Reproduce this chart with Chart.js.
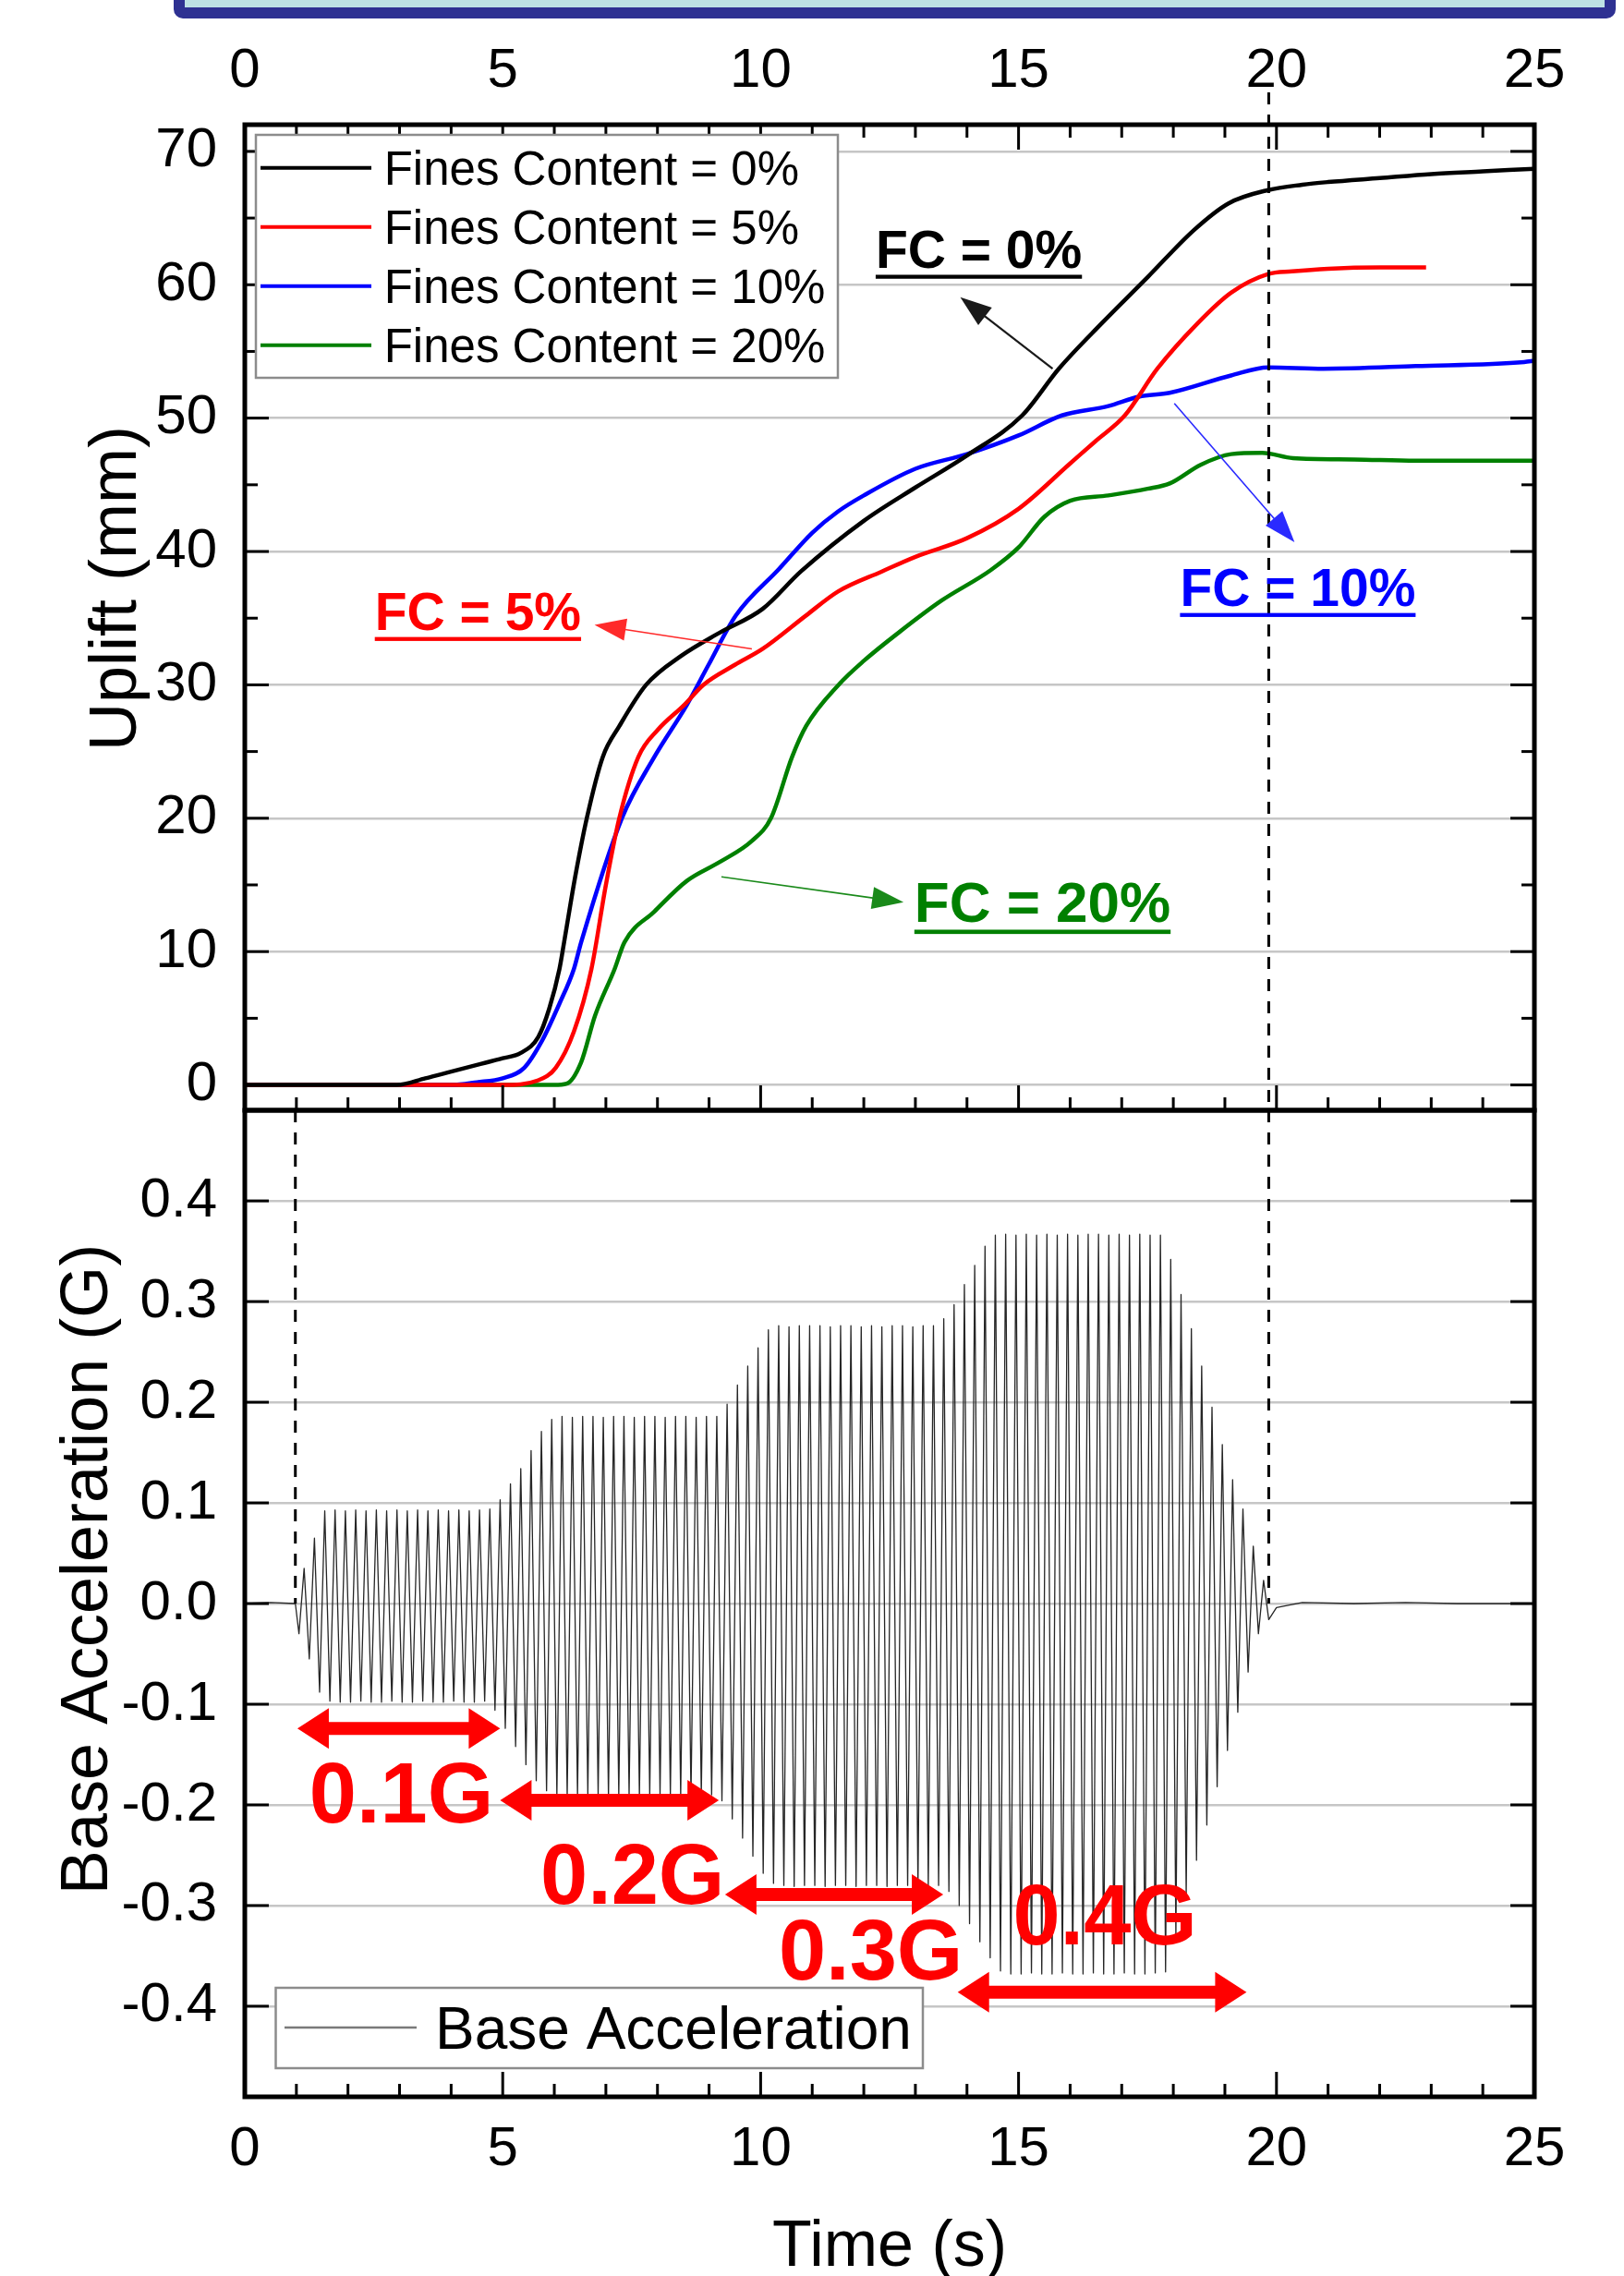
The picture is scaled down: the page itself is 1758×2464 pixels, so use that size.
<!DOCTYPE html>
<html>
<head>
<meta charset="utf-8">
<title>Uplift and base acceleration</title>
<script src="https://cdn.jsdelivr.net/npm/chart.js@4.4.1/dist/chart.umd.min.js"></script>
<style>
html, body { margin: 0; padding: 0; background: #fff; }
body { position: relative; width: 1758px; height: 2464px; overflow: hidden; }
#banner { position: absolute; left: 188px; top: -20px; width: 1561px; height: 40px; box-sizing: border-box;
  background: #bde1e4; border: 12px solid #2e3192; border-radius: 0 0 10px 10px; }
canvas { position: absolute; left: 0; }
#upliftChart { top: 0; }
#accChart { top: 1196px; }
</style>
</head>
<body>
<div id="banner"></div>
<canvas id="upliftChart" width="1758" height="1210"></canvas>
<canvas id="accChart" width="1758" height="1268"></canvas>
<script>
const FONT = "'Liberation Sans', Arial, Helvetica, sans-serif";
const B_TOP = 1196; // page offset of the lower canvas

/* axes */
const timeTicks = [0, 5, 10, 15, 20, 25];
const timeMinor = [1, 2, 3, 4, 6, 7, 8, 9, 11, 12, 13, 14, 16, 17, 18, 19, 21, 22, 23, 24];
const upliftTicks = [0, 10, 20, 30, 40, 50, 60, 70];
const upliftMinor = [5, 15, 25, 35, 45, 55, 65];
const accTicks = [-0.4, -0.3, -0.2, -0.1, 0, 0.1, 0.2, 0.3, 0.4];

/* uplift (mm) vs time (s) */
const fcLabels = ['Fines Content = 0%', 'Fines Content = 5%', 'Fines Content = 10%', 'Fines Content = 20%'];

const fc0Time = [0, 2.95, 3.5, 4, 4.5, 5, 5.35, 5.69, 5.9, 6.1, 6.19, 6.4, 6.63, 6.94, 7.26, 7.78, 8.47, 9.2, 10.04, 10.78,
  12, 13, 14, 15.07, 15.78, 16.61, 17.51, 18.4, 19.07, 19.84, 20.5, 21, 22, 23, 24, 25];
const fc0Uplift = [0, 0, 0.5, 1.0, 1.5, 2.0, 2.4, 3.6, 5.7, 8.7, 10.7, 15.5, 20, 24.6, 26.9, 30, 32.2, 33.9, 35.7, 38.5,
  42.3, 44.8, 47.2, 50.2, 53.7, 57.1, 60.6, 64.1, 66.1, 67.1, 67.5, 67.7, 68.0, 68.3, 68.5, 68.7];

const fc5Time = [0, 5, 5.69, 6.03, 6.38, 6.72, 7.0, 7.26, 7.63, 8.0, 8.52, 8.89, 9.5, 10.04, 10.88, 11.5, 12.35, 13, 14, 15,
  16, 16.5, 17.06, 17.69, 18.47, 19.12, 19.84, 20.3, 21, 22, 22.9];
const fc5Uplift = [0, 0, 0.35, 1.3, 4.0, 8.7, 15, 20, 24.6, 26.6, 28.5, 30, 31.5, 32.7, 35.2, 37, 38.5, 39.6, 41, 43.2,
  46.6, 48.3, 50.2, 53.7, 57.1, 59.4, 60.8, 61.0, 61.2, 61.3, 61.3];

const fc10Time = [0, 4, 4.5, 5, 5.42, 5.76, 6.1, 6.38, 6.52, 7.31, 7.94, 8.57, 8.99, 9.52, 10.36, 11, 11.5, 12, 13, 14,
  15, 15.84, 16.74, 17.33, 17.93, 19.12, 19.84, 20.91, 22.7, 24.8, 25];
const fc10Uplift = [0, 0, 0.2, 0.5, 1.3, 3.3, 6.1, 8.7, 10.7, 20, 24.6, 28.5, 31.5, 35.2, 38.7, 41.4, 43.0, 44.2, 46.2, 47.3,
  48.7, 50.2, 50.9, 51.6, 51.9, 53.2, 53.8, 53.7, 53.9, 54.2, 54.3];

const fc20Time = [0, 6.0, 6.24, 6.52, 6.79, 7.17, 7.36, 7.94, 8.57, 9.2, 9.83, 10.2, 10.61, 10.88, 11.51, 12.0, 12.67, 13.5, 14.46, 15,
  15.5, 16, 16.74, 17.5, 17.93, 18.53, 19.12, 19.72, 20.32, 21.51, 22.7, 25];
const fc20Uplift = [0, 0, 0.1, 1.7, 5.2, 8.7, 10.7, 13.0, 15.3, 16.7, 18.3, 20, 24.6, 26.9, 30, 31.8, 33.9, 36.3, 38.6, 40.3,
  42.6, 43.8, 44.2, 44.7, 45.1, 46.5, 47.3, 47.4, 47.0, 46.9, 46.8, 46.8];

/* base acceleration (G): peaks and troughs of the record */
const accTime = [0, 0.5, 0.98,
  1.05, 1.15, 1.25, 1.35, 1.45, 1.55, 1.65, 1.75, 1.85, 1.95,
  2.05, 2.15, 2.25, 2.35, 2.45, 2.55, 2.65, 2.75, 2.85, 2.95,
  3.05, 3.15, 3.25, 3.35, 3.45, 3.55, 3.65, 3.75, 3.85, 3.95,
  4.05, 4.15, 4.25, 4.35, 4.45, 4.55, 4.65, 4.75, 4.85, 4.95,
  5.05, 5.15, 5.25, 5.35, 5.45, 5.55, 5.65, 5.75, 5.85, 5.95,
  6.05, 6.15, 6.25, 6.35, 6.45, 6.55, 6.65, 6.75, 6.85, 6.95,
  7.05, 7.15, 7.25, 7.35, 7.45, 7.55, 7.65, 7.75, 7.85, 7.95,
  8.05, 8.15, 8.25, 8.35, 8.45, 8.55, 8.65, 8.75, 8.85, 8.95,
  9.05, 9.15, 9.25, 9.35, 9.45, 9.55, 9.65, 9.75, 9.85, 9.95,
  10.05, 10.15, 10.25, 10.35, 10.45, 10.55, 10.65, 10.75, 10.85, 10.95,
  11.05, 11.15, 11.25, 11.35, 11.45, 11.55, 11.65, 11.75, 11.85, 11.95,
  12.05, 12.15, 12.25, 12.35, 12.45, 12.55, 12.65, 12.75, 12.85, 12.95,
  13.05, 13.15, 13.25, 13.35, 13.45, 13.55, 13.65, 13.75, 13.85, 13.95,
  14.05, 14.15, 14.25, 14.35, 14.45, 14.55, 14.65, 14.75, 14.85, 14.95,
  15.05, 15.15, 15.25, 15.35, 15.45, 15.55, 15.65, 15.75, 15.85, 15.95,
  16.05, 16.15, 16.25, 16.35, 16.45, 16.55, 16.65, 16.75, 16.85, 16.95,
  17.05, 17.15, 17.25, 17.35, 17.45, 17.55, 17.65, 17.75, 17.85, 17.95,
  18.05, 18.15, 18.25, 18.35, 18.45, 18.55, 18.65, 18.75, 18.85, 18.95,
  19.05, 19.15, 19.25, 19.35, 19.45, 19.55, 19.65, 19.75, 19.85,
  20.0, 20.5, 21.5, 22.5, 23.5, 25];
const accValue = [0, 0.001, 0,
  -0.030, 0.035, -0.055, 0.065, -0.088, 0.092, -0.097, 0.093, -0.098, 0.092,
  -0.098, 0.093, -0.097, 0.092, -0.098, 0.093, -0.098, 0.092, -0.097, 0.093,
  -0.098, 0.092, -0.098, 0.093, -0.097, 0.092, -0.098, 0.093, -0.098, 0.092,
  -0.097, 0.093, -0.098, 0.092, -0.098, 0.093, -0.097, 0.094, -0.106, 0.103,
  -0.124, 0.119, -0.142, 0.134, -0.160, 0.152, -0.176, 0.171, -0.186, 0.183,
  -0.190, 0.186, -0.191, 0.185, -0.190, 0.186, -0.189, 0.186, -0.190, 0.185,
  -0.191, 0.186, -0.190, 0.186, -0.190, 0.185, -0.191, 0.186, -0.190, 0.186,
  -0.190, 0.185, -0.190, 0.186, -0.191, 0.186, -0.190, 0.185, -0.190, 0.186,
  -0.190, 0.186, -0.196, 0.198, -0.214, 0.217, -0.233, 0.236, -0.251, 0.254,
  -0.268, 0.272, -0.278, 0.276, -0.280, 0.275, -0.281, 0.276, -0.280, 0.276,
  -0.280, 0.276, -0.281, 0.275, -0.280, 0.276, -0.280, 0.276, -0.281, 0.275,
  -0.280, 0.276, -0.280, 0.275, -0.281, 0.276, -0.280, 0.276, -0.280, 0.275,
  -0.281, 0.276, -0.280, 0.276, -0.280, 0.283, -0.286, 0.297, -0.300, 0.317,
  -0.318, 0.336, -0.336, 0.355, -0.352, 0.366, -0.365, 0.367, -0.368, 0.366,
  -0.368, 0.367, -0.367, 0.366, -0.368, 0.367, -0.368, 0.366, -0.367, 0.367,
  -0.368, 0.366, -0.368, 0.367, -0.367, 0.367, -0.368, 0.366, -0.368, 0.367,
  -0.367, 0.366, -0.368, 0.367, -0.368, 0.366, -0.367, 0.366, -0.366, 0.342,
  -0.332, 0.307, -0.290, 0.273, -0.255, 0.236, -0.220, 0.195, -0.182, 0.158,
  -0.146, 0.123, -0.108, 0.094, -0.068, 0.057, -0.030, 0.023, -0.016,
  -0.004, 0.001, 0, 0.001, 0, 0];

/* shaking stages */
const stageLabels = ['0.1G', '0.2G', '0.3G', '0.4G'];
const stageFrom = [1.02, 4.95, 9.31, 13.82];
const stageTo = [4.95, 9.19, 13.54, 19.42];

/* start / end of shaking (dashed markers) */
const shakeStart = 0.98;
const shakeEnd = 19.85;

/* ---------- styling / layout ---------- */
const fcColors = ['#000000', '#ff0000', '#0000ff', '#008000'];

const fcNotes = [
  {text: 'FC = 0%',  at: [12.23, 61.26], size: 57, color: '#000000', arrow: '#1a1a1a', tail: [15.66, 53.7], tip: [13.87, 59.07], lw: 2.2},
  {text: 'FC = 5%',  at: [2.52, 34.1],   size: 57, color: '#ff0000', arrow: '#ff2a2a', tail: [9.83, 32.7],  tip: [6.78, 34.5],   lw: 1.6},
  {text: 'FC = 10%', at: [18.13, 35.9],  size: 57, color: '#0000ff', arrow: '#2a2aff', tail: [18.02, 51.1], tip: [20.35, 40.7],  lw: 1.6},
  {text: 'FC = 20%', at: [12.98, 12.2],  size: 62, color: '#008000', arrow: '#1a8a1a', tail: [9.24, 15.6],  tip: [12.77, 13.7],  lw: 1.6}
];

const stageLayout = [
  {arrowY: -0.124, textAt: [1.25, -0.2175]},
  {arrowY: -0.1955, textAt: [5.73, -0.298]},
  {arrowY: -0.289, textAt: [10.35, -0.3735]},
  {arrowY: -0.386, textAt: [14.89, -0.339]}
];

function pairs(ts, vs) { return ts.map((t, i) => ({x: t, y: vs[i]})); }

function seg(ctx, x1, y1, x2, y2) {
  ctx.beginPath(); ctx.moveTo(x1, y1); ctx.lineTo(x2, y2); ctx.stroke();
}

function arrowHead(ctx, fx, fy, tx, ty, len, half) {
  const a = Math.atan2(ty - fy, tx - fx), c = Math.cos(a), s = Math.sin(a);
  ctx.beginPath();
  ctx.moveTo(tx, ty);
  ctx.lineTo(tx - len * c + half * s, ty - len * s - half * c);
  ctx.lineTo(tx - len * c - half * s, ty - len * s + half * c);
  ctx.closePath(); ctx.fill();
}

function doubleArrow(ctx, x1, x2, y, shaft, hl, hh) {
  ctx.beginPath();
  ctx.moveTo(x1, y);
  ctx.lineTo(x1 + hl, y - hh); ctx.lineTo(x1 + hl, y - shaft / 2);
  ctx.lineTo(x2 - hl, y - shaft / 2); ctx.lineTo(x2 - hl, y - hh);
  ctx.lineTo(x2, y);
  ctx.lineTo(x2 - hl, y + hh); ctx.lineTo(x2 - hl, y + shaft / 2);
  ctx.lineTo(x1 + hl, y + shaft / 2); ctx.lineTo(x1 + hl, y + hh);
  ctx.closePath(); ctx.fill();
}

function makeDecor(cfg) {
  return {
    id: 'decor',
    afterDatasetsDraw(chart) {
      const ctx = chart.ctx, a = chart.chartArea;
      const xs = chart.scales.x, ys = chart.scales.y;
      ctx.save();

      // dashed markers
      ctx.strokeStyle = '#000'; ctx.lineWidth = 3; ctx.setLineDash([13, 11]);
      cfg.markers.forEach(m => {
        const px = xs.getPixelForValue(m.t);
        const y0 = m.fromTop != null ? m.fromTop : a.top;
        const y1 = m.toValue != null ? ys.getPixelForValue(m.toValue) : a.bottom;
        seg(ctx, px, y0, px, y1);
      });
      ctx.setLineDash([]);

      // labelled arrows for the uplift curves
      (cfg.notes || []).forEach(n => {
        const tx = xs.getPixelForValue(n.tip[0]), ty = ys.getPixelForValue(n.tip[1]);
        const fx = xs.getPixelForValue(n.tail[0]), fy = ys.getPixelForValue(n.tail[1]);
        const ang = Math.atan2(ty - fy, tx - fx);
        ctx.strokeStyle = n.arrow; ctx.fillStyle = n.arrow; ctx.lineWidth = n.lw;
        seg(ctx, fx, fy, tx - 30 * Math.cos(ang), ty - 30 * Math.sin(ang));
        arrowHead(ctx, fx, fy, tx, ty, 34, 12);
        const px = xs.getPixelForValue(n.at[0]), py = ys.getPixelForValue(n.at[1]);
        ctx.font = 'bold ' + n.size + 'px ' + FONT;
        ctx.textAlign = 'left'; ctx.textBaseline = 'alphabetic';
        ctx.fillStyle = n.color;
        ctx.fillText(n.text, px, py);
        const w = ctx.measureText(n.text).width;
        ctx.fillRect(px, py + n.size * 0.13, w, n.size * 0.075);
      });

      // shaking stage arrows
      if (cfg.stages) {
        ctx.fillStyle = '#ff0000';
        stageLabels.forEach((lab, i) => {
          const L = stageLayout[i];
          doubleArrow(ctx, xs.getPixelForValue(stageFrom[i]), xs.getPixelForValue(stageTo[i]),
            ys.getPixelForValue(L.arrowY), 14, 34, 22);
          ctx.font = 'bold 92px ' + FONT;
          ctx.textAlign = 'left'; ctx.textBaseline = 'alphabetic';
          ctx.fillText(lab, xs.getPixelForValue(L.textAt[0]), ys.getPixelForValue(L.textAt[1]));
        });
      }

      // inward ticks and frame
      ctx.strokeStyle = '#000'; ctx.lineWidth = 3;
      const xt = (vals, len) => vals.forEach(v => {
        const px = xs.getPixelForValue(v);
        seg(ctx, px, a.bottom, px, a.bottom - len);
        if (cfg.topTicks) seg(ctx, px, a.top, px, a.top + len);
      });
      xt(timeTicks, 27); xt(timeMinor, 14);
      const yt = (vals, len) => vals.forEach(v => {
        const py = ys.getPixelForValue(v);
        seg(ctx, a.left, py, a.left + len, py);
        seg(ctx, a.right, py, a.right - len, py);
      });
      yt(cfg.yMajor, 26); yt(cfg.yMinor || [], 14);
      ctx.lineWidth = 5;
      ctx.strokeRect(a.left, a.top, a.right - a.left, a.bottom - a.top);

      // legend box
      const L = cfg.legend;
      ctx.fillStyle = '#fff'; ctx.fillRect(L.x, L.y, L.w, L.h);
      ctx.strokeStyle = '#8c8c8c'; ctx.lineWidth = 2.5; ctx.strokeRect(L.x, L.y, L.w, L.h);
      chart.data.datasets.forEach((ds, i) => {
        const cy = L.y + L.first + i * L.step;
        ctx.strokeStyle = L.lineColor || ds.borderColor; ctx.lineWidth = L.lineW;
        seg(ctx, L.x + L.sx0, cy, L.x + L.sx1, cy);
        ctx.fillStyle = '#000'; ctx.font = L.size + 'px ' + FONT;
        ctx.textAlign = 'left'; ctx.textBaseline = 'alphabetic';
        ctx.fillText(ds.label, L.x + L.tx, cy + 0.358 * L.size);
      });

      // axis titles
      cfg.titles.forEach(t => {
        ctx.save();
        ctx.translate(t.x, t.y);
        if (t.rot) ctx.rotate(-Math.PI / 2);
        ctx.fillStyle = '#000'; ctx.font = t.size + 'px ' + FONT;
        ctx.textAlign = 'center'; ctx.textBaseline = 'alphabetic';
        ctx.fillText(t.text, 0, 0);
        ctx.restore();
      });

      ctx.restore();
    }
  };
}

const tickFont = {family: FONT, size: 60};

// fixed-width y scale without the extra half-label padding
function fixY(s) { s.width = 265; s.paddingTop = 0; s.paddingBottom = 0; }

/* ---------- top panel: uplift ---------- */
const upliftData = [
  pairs(fc0Time, fc0Uplift), pairs(fc5Time, fc5Uplift),
  pairs(fc10Time, fc10Uplift), pairs(fc20Time, fc20Uplift)
];

new Chart(document.getElementById('upliftChart'), {
  type: 'line',
  data: {
    datasets: upliftData.map((d, i) => ({
      label: fcLabels[i],
      data: d,
      borderColor: fcColors[i],
      borderWidth: 4.5,
      pointRadius: 0,
      borderJoinStyle: 'round',
      cubicInterpolationMode: 'monotone',
      fill: false
    }))
  },
  options: {
    responsive: false,
    animation: false,
    events: [],
    layout: {autoPadding: false, padding: {left: 0, right: 97, top: 0, bottom: 8}},
    plugins: {legend: {display: false}, tooltip: {enabled: false}},
    scales: {
      x: {
        type: 'linear', position: 'top', min: 0, max: 25,
        afterBuildTicks: s => { s.ticks = timeTicks.map(v => ({value: v})); },
        afterFit: s => { s.height = 135; s.paddingLeft = 0; s.paddingRight = 0; },
        ticks: {font: tickFont, color: '#000', padding: 22, maxRotation: 0, autoSkip: false},
        grid: {display: false, drawTicks: false},
        border: {display: false}
      },
      y: {
        type: 'linear', min: -1.9, max: 72,
        afterBuildTicks: s => { s.ticks = upliftTicks.map(v => ({value: v})); },
        afterFit: fixY,
        ticks: {font: tickFont, color: '#000', padding: 30, callback: v => String(v)},
        grid: {color: '#c6c6c6', lineWidth: 2.5, drawTicks: false},
        border: {display: false}
      }
    }
  },
  plugins: [makeDecor({
    topTicks: true,
    yMajor: upliftTicks, yMinor: upliftMinor,
    markers: [{t: shakeEnd, fromTop: 100}],
    notes: fcNotes,
    legend: {x: 277, y: 146, w: 630, h: 263, first: 35.7, step: 64, sx0: 5, sx1: 125, tx: 138.7, size: 51, lineW: 4},
    titles: [{text: 'Uplift (mm)', x: 147, y: 637, rot: true, size: 72}]
  })]
});

/* ---------- bottom panel: base acceleration ---------- */
new Chart(document.getElementById('accChart'), {
  type: 'line',
  data: {
    datasets: [{
      label: 'Base Acceleration',
      data: pairs(accTime, accValue),
      borderColor: '#262626',
      borderWidth: 1.3,
      pointRadius: 0,
      tension: 0,
      borderJoinStyle: 'round',
      fill: false
    }]
  },
  options: {
    responsive: false,
    animation: false,
    events: [],
    layout: {autoPadding: false, padding: {left: 0, right: 97, top: 6, bottom: 0}},
    plugins: {legend: {display: false}, tooltip: {enabled: false}},
    scales: {
      x: {
        type: 'linear', position: 'bottom', min: 0, max: 25,
        afterBuildTicks: s => { s.ticks = timeTicks.map(v => ({value: v})); },
        afterFit: s => { s.height = 194; s.paddingLeft = 0; s.paddingRight = 0; },
        ticks: {font: tickFont, color: '#000', padding: 21, maxRotation: 0, autoSkip: false},
        grid: {display: false, drawTicks: false},
        border: {display: false}
      },
      y: {
        type: 'linear', min: -0.49, max: 0.49,
        afterBuildTicks: s => { s.ticks = accTicks.map(v => ({value: v})); },
        afterFit: fixY,
        ticks: {font: tickFont, color: '#000', padding: 30, callback: v => v.toFixed(1)},
        grid: {color: '#c6c6c6', lineWidth: 2.5, drawTicks: false},
        border: {display: false}
      }
    }
  },
  plugins: [makeDecor({
    topTicks: false,
    yMajor: accTicks,
    markers: [{t: shakeStart, toValue: 0}, {t: shakeEnd, toValue: 0}],
    stages: true,
    legend: {x: 298.5, y: 2152 - B_TOP, w: 700.5, h: 87, first: 43, step: 0, sx0: 9.5, sx1: 152.5, tx: 172.5, size: 64, lineW: 2.5, lineColor: '#7a7a7a'},
    titles: [
      {text: 'Base Acceleration (G)', x: 116, y: 1699 - B_TOP, rot: true, size: 72},
      {text: 'Time (s)', x: 963, y: 2453 - B_TOP, rot: false, size: 70}
    ]
  })]
});
</script>
</body>
</html>
